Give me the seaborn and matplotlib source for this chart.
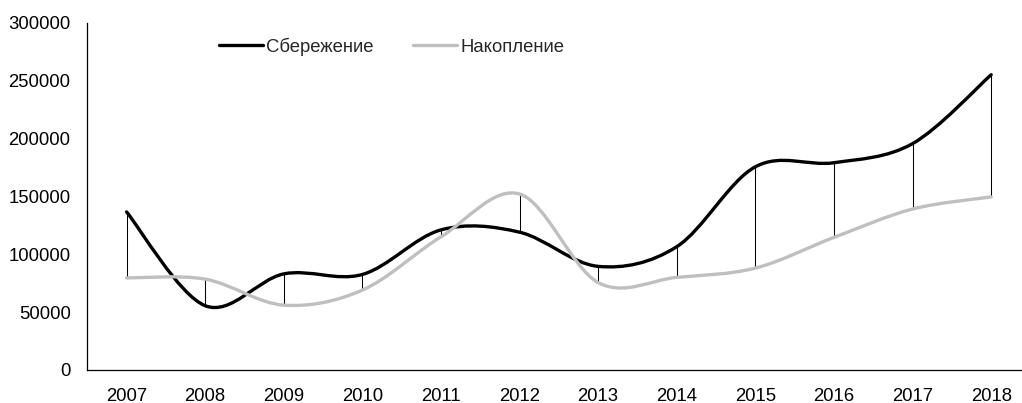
import numpy as np
import matplotlib
matplotlib.use("Agg")
import matplotlib.pyplot as plt
from matplotlib.path import Path
from matplotlib.patches import PathPatch
from matplotlib.lines import Line2D
import seaborn as sns

years = ["2007", "2008", "2009", "2010", "2011", "2012",
         "2013", "2014", "2015", "2016", "2017", "2018"]
savings = [136500, 55500, 83000, 82500, 121000, 119000,
           89500, 106500, 175500, 179000, 195500, 255000]
accumulation = [79500, 78500, 56000, 69000, 115000, 152000,
                75500, 80000, 88000, 114500, 139000, 149500]
series_names = ["Сбережение", "Накопление"]
series_colors = ["#000000", "#BFBFBF"]
yticks = [0, 50000, 100000, 150000, 200000, 250000, 300000]

sns.set_theme(style="white")
plt.rcParams["font.family"] = ["Liberation Sans", "DejaVu Sans"]

fig = plt.figure(figsize=(10.22, 4.03), dpi=100)
ax = fig.add_axes([0.0854, 0.0819, 0.9229, 0.862])

x = np.arange(len(years))


def smooth_path(xs, ys):
    pts = np.column_stack([xs, ys]).astype(float)
    n = len(pts)
    verts = [pts[0]]
    codes = [Path.MOVETO]
    for i in range(n - 1):
        p0 = pts[i - 1] if i > 0 else pts[i]
        p1 = pts[i]
        p2 = pts[i + 1]
        p3 = pts[i + 2] if i + 2 < n else pts[i + 1]
        c1 = p1 + (p2 - p0) / 6.0
        c2 = p2 - (p3 - p1) / 6.0
        verts += [c1, c2, p2]
        codes += [Path.CURVE4] * 3
    return Path(verts, codes)


# drop lines
lo = np.minimum(savings, accumulation)
hi = np.maximum(savings, accumulation)
ax.vlines(x, lo, hi, colors="#000000", linewidth=0.75, zorder=2)

for vals, col, z in zip([savings, accumulation], series_colors, [3, 4]):
    patch = PathPatch(smooth_path(x, vals), facecolor="none", edgecolor=col,
                      linewidth=2.4, capstyle="round", joinstyle="round", zorder=z)
    ax.add_patch(patch)

ax.set_xlim(-0.5, len(years) - 0.5)
ax.set_ylim(0, 300000)
ax.set_xticks(x)
ax.set_xticklabels(years)
ax.set_yticks(yticks)
ax.set_yticklabels([str(v) for v in yticks])
ax.tick_params(axis="both", length=0, labelsize=13.3, colors="#000000")
ax.tick_params(axis="x", pad=13)
ax.tick_params(axis="y", pad=12)

sns.despine(ax=ax, top=True, right=True)
for s in ["left", "bottom"]:
    ax.spines[s].set_color("#000000")
    ax.spines[s].set_linewidth(0.9)
ax.grid(False)

handles = [Line2D([0], [0], color=c, linewidth=2.4) for c in series_colors]
fig.legend(handles, series_names, loc="center left",
           bbox_to_anchor=(0.214, 0.884), ncol=2, frameon=False,
           fontsize=13.3, handlelength=2.4, handletextpad=0.15,
           columnspacing=2.15, borderpad=0, borderaxespad=0)

fig.savefig("out.png", dpi=100)
